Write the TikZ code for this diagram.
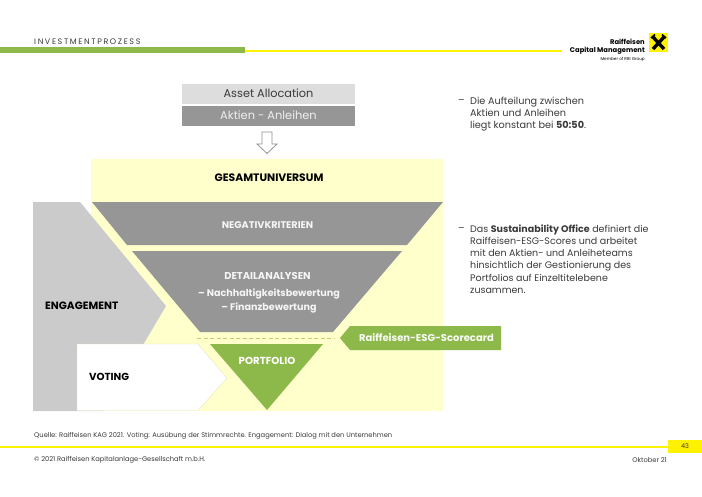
\documentclass[tikz,border=0pt]{standalone}
\usepackage{fontspec}
\setmainfont{Poppins}
\definecolor{ryellow}{HTML}{FFFFCC}
\definecolor{rline}{HTML}{FFF200}
\definecolor{rgreen}{HTML}{8DB84A}
\definecolor{rgrey}{HTML}{969696}
\definecolor{rlgrey}{HTML}{DDDDDD}
\definecolor{rmid}{HTML}{CBCBCB}
\definecolor{rtext}{HTML}{3A3A3A}
\definecolor{rdash}{HTML}{C4CC7A}
\tikzset{
  lab/.style={font=\fontsize{9.7}{11}\selectfont\bfseries,text=#1,inner sep=0pt,align=center},
  body/.style={font=\fontsize{9.7}{12.4}\selectfont,text=rtext,inner sep=0pt,anchor=north west,align=left},
  small/.style={font=\fontsize{6.7}{8}\selectfont,text=rtext,inner sep=0pt},
}
\begin{document}
\begin{tikzpicture}[x=1pt,y=-1pt]
\useasboundingbox[fill=white] (0,0) rectangle (702,496);
% header
\fill[rline] (0,50) rectangle (562,52);
\fill[rgreen] (0,47) rectangle (245,52.5);
\node[font=\fontsize{8}{9}\selectfont\addfontfeature{LetterSpace=20},text=rtext,inner sep=0pt,anchor=west] (title) at (34,41.5) {INVESTMENTPROZESS};
% logo
\fill[rline] (649,33) rectangle (668,52);
\draw[black,line width=3.4pt] (653,37) -- (664,49);
\draw[black,line width=3.4pt] (664,37) -- (653,49);
\draw[black,line width=1.6pt] (651,38) -- (655,34.5);
\draw[black,line width=1.6pt] (666,38) -- (662,34.5);
\node[font=\fontsize{6.8}{7.4}\selectfont\bfseries,inner sep=0pt,anchor=north east,align=right] (brand) at (645,39) {Raiffeisen\\Capital Management};
\node[font=\fontsize{4.2}{5}\selectfont,inner sep=0pt,anchor=east] (member) at (645,59) {Member of RBI Group};
% top boxes
\node[fill=rlgrey,minimum width=173pt,minimum height=20pt,inner sep=0pt,text=rtext,font=\fontsize{11.3}{13}\selectfont] (asset) at (268.5,93.5) {Asset Allocation};
\node[fill=rgrey,minimum width=173pt,minimum height=20pt,inner sep=0pt,text=white!85!rgrey,font=\fontsize{11.4}{13}\selectfont] (aktien) at (268.5,115.5) {Aktien - Anleihen};
% arrow
\draw[fill=white,draw=gray!85,line width=0.8pt] (262,132) -- (272,132) -- (272,144) -- (277,144) -- (267,153.5) -- (257,144) -- (262,144) -- cycle;
% universe
\fill[ryellow] (91,159) rectangle (443,411);
\node[lab=black,font=\fontsize{10.8}{12}\selectfont\bfseries] (ges) at (269,178) {GESAMTUNIVERSUM};
% engagement
\fill[rmid] (33,202) -- (80,202) -- (166,306) -- (104,411) -- (33,411) -- cycle;
\node[lab=black,anchor=west,font=\fontsize{10.6}{12}\selectfont\bfseries] (eng) at (45,306) {ENGAGEMENT};
% funnels
\fill[rgrey] (92,202) -- (443,202) -- (407,245) -- (127,245) -- cycle;
\node[lab=white!90!rgrey] (neg) at (267.5,225) {NEGATIVKRITERIEN};
\fill[rgrey] (132,251) -- (402,251) -- (333,332) -- (200,332) -- cycle;
\node[lab=white!90!rgrey,font=\fontsize{10}{12}\selectfont\bfseries] (det) at (267.5,276) {DETAILANALYSEN};
\node[lab=white!90!rgrey,font=\fontsize{9.6}{13.5}\selectfont\bfseries] (nach) at (269,301) {-- Nachhaltigkeitsbewertung\\-- Finanzbewertung};
\draw[rdash,line width=1pt,dash pattern=on 4pt off 2.5pt] (197,338) -- (335,338);
% portfolio
\fill[rgreen] (210,344) -- (323,344) -- (267,410) -- cycle;
\node[lab=white,font=\fontsize{10.2}{12}\selectfont\bfseries] (port) at (267,361) {PORTFOLIO};
% voting
\draw[fill=white,draw=ryellow!80!gray,line width=0.4pt] (77,344) -- (198,344) -- (227,378) -- (198,410.5) -- (77,410.5) -- cycle;
\node[lab=black,anchor=west,font=\fontsize{10.2}{12}\selectfont\bfseries] (vot) at (89,377) {VOTING};
% scorecard
\fill[rgreen] (340,338) -- (350,326) -- (501,326) -- (501,350) -- (350,350) -- cycle;
\node[lab=white!95!rgreen,font=\fontsize{10}{12}\selectfont\bfseries] (score) at (426.5,338) {Raiffeisen-ESG-Scorecard};
% bullets
\node[body] (d1) at (458,96.5) {--\vphantom{D}};
\node[body] (t1) at (470,96.5) {Die Aufteilung zwischen\\Aktien und Anleihen\\liegt konstant bei \textbf{50:50}.};
\node[body] (d2) at (458,224.5) {--\vphantom{D}};
\node[body,font=\fontsize{9.5}{12.2}\selectfont] (t2) at (470,224.5) {Das \textbf{Sustainability Office} definiert die\\Raiffeisen-ESG-Scores und arbeitet\\mit den Aktien- und Anleiheteams\\hinsichtlich der Gestionierung des\\Portfolios auf Einzeltitelebene\\zusammen.};
% footer
\fill[rline] (0,446) rectangle (668,448);
\node[fill=rline,minimum width=34pt,minimum height=13pt,inner sep=0pt,font=\fontsize{6.5}{8}\selectfont,text=rtext] (page) at (685,446) {43};
\node[small,anchor=west] (src) at (34,436) {Quelle:  Raiffeisen  KAG 2021.  Voting: Ausübung  der Stimmrechte.  Engagement:  Dialog mit den Unternehmen};
\node[small,anchor=west] (copy) at (34,460) {© 2021  Raiffeisen  Kapitalanlage-Gesellschaft  m.b.H.};
\node[small,anchor=east] (date) at (667,460) {Oktober 21};
\end{tikzpicture}
\end{document}
